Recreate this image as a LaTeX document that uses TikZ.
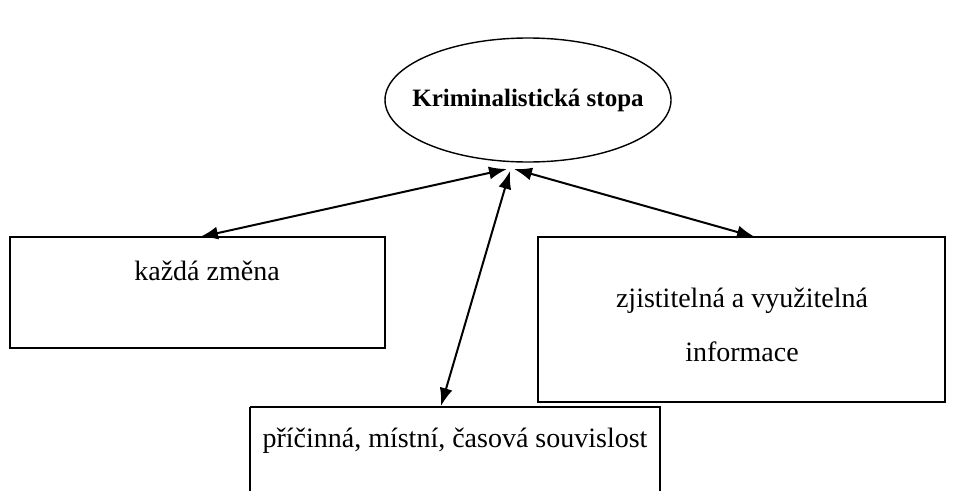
\documentclass[tikz,border=0pt]{standalone}
\usepackage{fontspec}
\setmainfont{Liberation Serif}
\usepackage{tikz}
\usetikzlibrary{arrows.meta}

\begin{document}
\begin{tikzpicture}[x=1pt,y=-1pt,
    stopa/.style={font=\fontsize{25}{30}\selectfont\bfseries},
    box/.style={draw,line width=1.4pt,rectangle,inner sep=0pt},
    txt/.style={font=\fontsize{28}{34}\selectfont,align=center},
    link/.style={{Latex[length=18pt,width=13pt]}-{Latex[length=18pt,width=13pt]},line width=2pt}]
  \useasboundingbox (0,0) rectangle (955,490);
  % ellipse
  \node[stopa] (st) at (528,100) {Kriminalistická stopa};
  \draw[line width=1.4pt] (st.center) ellipse [x radius=143, y radius=62];
  % boxes
  \draw[box] (10,237) rectangle (385,348);
  \node[txt] (zm) at (207,271) {každá změna};
  \draw[box] (538,237) rectangle (945,402);
  \node[txt] (inf) at (742,325) {zjistitelná a využitelná\\[20pt]informace};
  \draw[box] (250,407) -- (250,492) (250,407) -- (660,407) -- (660,492);
  \node[txt] (sou) at (455,441) {příčinná, místní, časová souvislost};
  \coordinate (zmT) at (200,237);
  \coordinate (infT) at (755,237);
  \coordinate (souT) at (441,406);
  \coordinate (a) at (507,169);
  \coordinate (b) at (514,169);
  \coordinate (c) at (510,171);
  \draw[link] (zmT) -- (a);
  \draw[link] (infT) -- (b);
  \draw[link] (souT) -- (c);
\end{tikzpicture}
\end{document}
